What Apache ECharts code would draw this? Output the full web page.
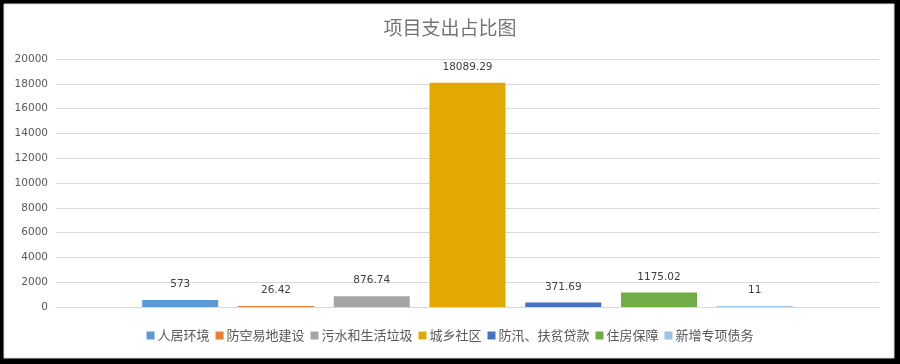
<!DOCTYPE html>
<html><head><meta charset="utf-8">
<script src="https://cdn.jsdelivr.net/npm/echarts@6/dist/echarts.min.js"></script>
<style>html,body{margin:0;padding:0;background:#000;}#c{width:900px;height:364px;}</style>
</head><body><div id="c"></div>
<script>
const title = '项目支出占比图';
const seriesNames = ['人居环境','防空易地建设','污水和生活垃圾','城乡社区','防汛、扶贫贷款','住房保障','新增专项债务'];
const seriesValues = [573, 26.42, 876.74, 18089.29, 371.69, 1175.02, 11];
const seriesColors = ['#5B9BD5','#ED7D31','#A5A5A5','#E2AA00','#4472C4','#70AD47','#9DC3E6'];
const categories = [''];
const yTicks = {min: 0, max: 20000, interval: 2000};

const chart = echarts.init(document.getElementById('c'), null, {renderer: 'canvas'});
const series = seriesNames.map((n, i) => ({
  name: n, type: 'bar', data: [seriesValues[i]],
  barWidth: 76, barGap: '26%', barMinHeight: 1,
  itemStyle: {color: seriesColors[i]},
  label: {show: true, position: 'top', distance: 10, color: '#404040',
    fontFamily: 'DejaVu Sans', fontSize: 10.5,
    formatter: p => String(seriesValues[p.seriesIndex])}
}));
chart.setOption({
  backgroundColor: '#000',
  animation: false,
  graphic: [{type: 'rect', z: -100, shape: {x: 4, y: 4, width: 890, height: 354},
    style: {fill: '#fff', stroke: '#d9d9d9', lineWidth: 1}}],
  title: {text: title, left: 'center', top: 13,
    textStyle: {fontFamily: 'Noto Sans CJK SC', fontSize: 19, fontWeight: 'normal', color: '#757575'}},
  legend: {bottom: 17, left: 'center', icon: 'rect', itemWidth: 8, itemHeight: 8, itemGap: 6,
    textStyle: {fontFamily: 'Noto Sans CJK SC', fontSize: 13, color: '#595959', padding: [0,0,0,-2]},
    data: seriesNames},
  grid: {left: 56, right: 21, top: 59, bottom: 57, containLabel: false},
  xAxis: {type: 'category', data: categories,
    axisLine: {show: true, lineStyle: {color: '#d9d9d9'}}, axisTick: {show: false}, axisLabel: {show: false}},
  yAxis: {type: 'value', min: yTicks.min, max: yTicks.max, interval: yTicks.interval,
    axisLine: {show: false}, axisTick: {show: false},
    axisLabel: {color: '#595959', fontFamily: 'DejaVu Sans', fontSize: 10.5, margin: 8,
      formatter: v => String(v)},
    splitLine: {lineStyle: {color: '#d9d9d9'}}},
  series: series
});
</script></body></html>
